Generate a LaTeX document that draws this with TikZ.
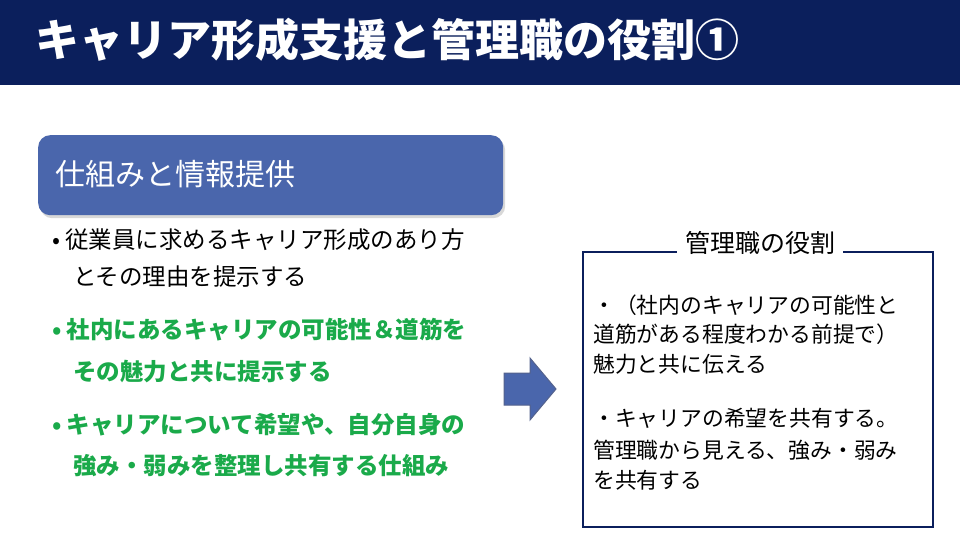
\documentclass[tikz,border=0pt]{standalone}
\usepackage{fontspec}
\setmainfont{Noto Sans CJK JP}
\usetikzlibrary{shadows}
\definecolor{navy}{HTML}{0B1F5C}
\definecolor{boxblue}{HTML}{4A66AC}
\definecolor{grn}{HTML}{1AAA4A}
\begin{document}
\begin{tikzpicture}[x=1pt,y=-1pt,
  body/.style={anchor=west,inner sep=0,font=\fontsize{23.5}{28}\selectfont},
  gbody/.style={body,text=grn,font=\fontsize{23.5}{28}\selectfont\bfseries},
  rbody/.style={anchor=west,inner sep=0,font=\fontsize{21.8}{26}\selectfont}]
\useasboundingbox (0,0) rectangle (960,540);
\fill[white] (0,0) rectangle (960,540);
\fill[navy] (0,0) rectangle (960,85);
\node[anchor=west,text=white,inner sep=0,font=\fontsize{44}{50}\selectfont\bfseries] (title) at (35,40) {キャリア形成支援と管理職の役割①};
\node[fill=boxblue,rounded corners=12pt,minimum width=465,minimum height=80,anchor=north west,drop shadow={opacity=0.3,shadow xshift=2pt,shadow yshift=-3pt}] (hd) at (38,135) {};
\node[anchor=west,text=white,inner sep=0,font=\fontsize{30}{34}\selectfont] (hdt) at (55,174) {仕組みと情報提供};
\node[body] (b1) at (52,240) {•\ 従業員に求めるキャリア形成のあり方};
\node[body] (b1b) at (73,277) {とその理由を提示する};
\node[gbody] (b2) at (52,330) {•\ 社内にあるキャリアの可能性＆道筋を};
\node[gbody] (b2b) at (73,372) {その魅力と共に提示する};
\node[gbody] (b3) at (52,425) {•\ キャリアについて希望や、自分自身の};
\node[gbody] (b3b) at (73,466) {強み・弱みを整理し共有する仕組み};
\draw[navy!70,fill=boxblue,line width=1pt] (504,373) -- (530,373) -- (530,358) -- (556,389) -- (530,420) -- (530,405) -- (504,405) -- cycle;
\draw[navy,line width=1.5pt] (583,252) rectangle (933,527);
\node[fill=white,inner xsep=8pt,inner ysep=2pt,font=\fontsize{25}{28}\selectfont] (lbl) at (760,243) {管理職の役割};
\node[rbody] (r1) at (593,305) {・（社内のキャリアの可能性と};
\node[rbody] (r2) at (593,334) {道筋がある程度わかる前提で）};
\node[rbody] (r3) at (593,364) {魅力と共に伝える};
\node[rbody] (r4) at (593,418) {・キャリアの希望を共有する。};
\node[rbody] (r5) at (593,450) {管理職から見える、強み・弱み};
\node[rbody] (r6) at (593,480) {を共有する};
\end{tikzpicture}
\end{document}
